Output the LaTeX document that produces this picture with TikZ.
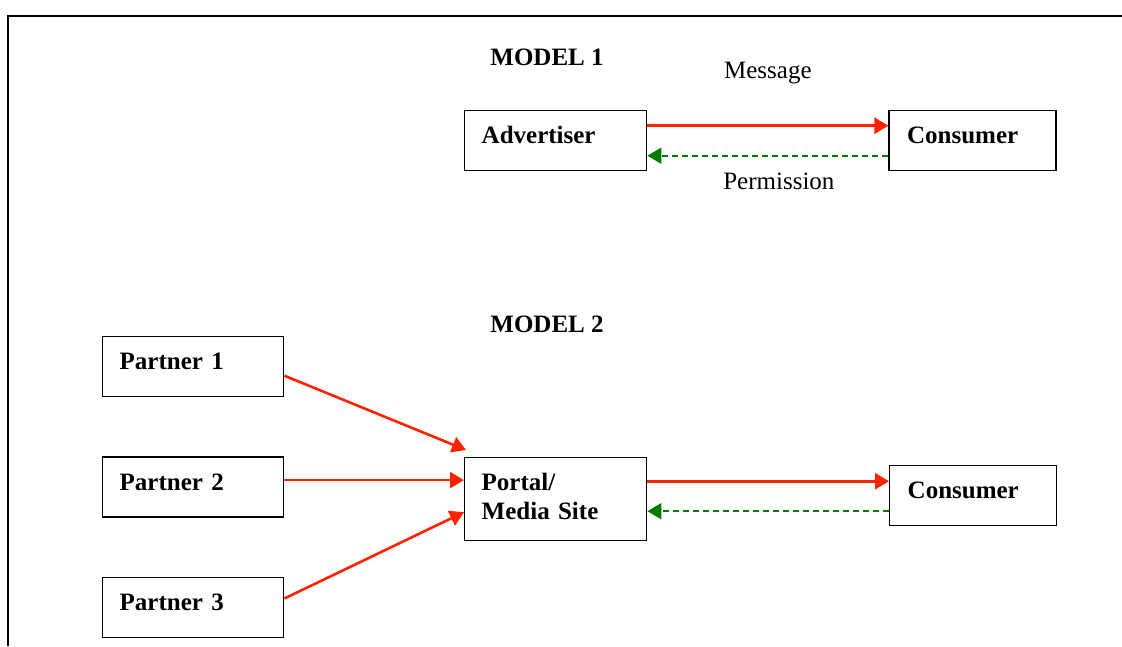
\documentclass[tikz,border=0pt]{standalone}
\usepackage{fontspec}
\setmainfont{Liberation Serif}
\usetikzlibrary{arrows.meta,positioning}

\definecolor{msgred}{RGB}{255,34,0}
\definecolor{permgreen}{RGB}{0,122,0}

\begin{document}
\begin{tikzpicture}[x=1pt,y=-1pt,>={Triangle[length=14pt,width=16pt]},
  box node/.style={rectangle,draw,line width=1.4pt,fill=white,align=left,anchor=north west,
    font=\fontsize{25}{29}\selectfont\bfseries,inner xsep=17pt,minimum height=60pt,
    text height=16pt,text depth=10pt},
  title node/.style={font=\fontsize{25}{29}\selectfont\bfseries},
  msg label/.style={font=\fontsize{25}{29}\selectfont},
  send/.style={->,draw=msgred,line width=2.6pt},
  grant/.style={->,draw=permgreen,line width=1.8pt,dash pattern=on 6pt off 4pt}]

  \useasboundingbox (0,0) rectangle (1122,646);
  \draw[line width=1.6pt] (8,646) -- (8,16) -- (1122,16);

  % model 1
  \node[title node] (model1) at (547,57) {MODEL 1};
  \node[box node,text width=148pt] (adv) at (464,110) {Advertiser};
  \node[box node,text width=131pt,inner xsep=18pt] (cons1) [right=241pt of adv] {Consumer};

  \draw[send] ([yshift=15pt]adv.east) -- node[msg label,yshift=53pt] {Message} ([yshift=15pt]cons1.west);
  \draw[grant] ([yshift=-15pt]cons1.west) -- node[msg label,xshift=11pt,yshift=-26pt] {Permission} ([yshift=-15pt]adv.east);

  % model 2
  \node[title node] (model2) at (547,324) {MODEL 2};
  \node[box node,text width=147pt] (p1) at (102,336) {Partner 1};
  \node[box node,text width=147pt] (p2) [below=59pt of p1] {Partner 2};
  \node[box node,text width=147pt] (p3) [below=59pt of p2] {Partner 3};
  \node[box node,text width=148pt,minimum height=83pt,text depth=33pt] (portal) at (464,457) {Portal/\\Media Site};
  \node[box node,text width=131pt,inner xsep=18pt] (cons2) at (889,465) {Consumer};

  \draw[send] ([yshift=-9pt]p1.east) -- ([shift={(2pt,7pt)}]portal.north west);
  \draw[send] ([yshift=7pt]p2.east) -- ([yshift=7pt]p2.east -| portal.west);
  \draw[send] ([yshift=9pt]p3.east) -- ([yshift=-13pt]portal.west);
  %(portal) to the consumer and back
  \draw[send] ([yshift=18pt]portal.east) -- ([yshift=18pt]portal.east -| cons2.west);
  \draw[grant] ([yshift=-12pt]portal.east -| cons2.west) -- ([yshift=-12pt]portal.east);

\end{tikzpicture}
\end{document}
